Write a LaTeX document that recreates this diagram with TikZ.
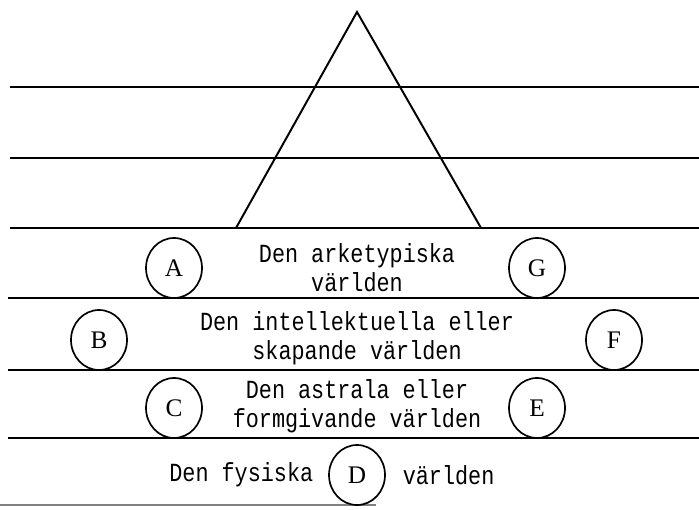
\documentclass[tikz,border=0pt]{standalone}
\usepackage{fontspec}
\setmainfont{Liberation Serif}
\newfontfamily\worldfont{Liberation Mono}
\usepackage{tikz}
\usetikzlibrary{shapes.geometric,positioning}

\begin{document}
\begin{tikzpicture}[
    level/.style={line width=1.4pt},
    letter/.style={draw, ellipse, line width=1.2pt, minimum width=1.4cm, minimum height=1.5cm, inner sep=0pt, font=\fontsize{18}{20}\selectfont},
    world/.style={align=center, yscale=1.2, transform shape, font=\worldfont\fontsize{15.5}{17}\selectfont}
  ]
    \useasboundingbox (0,0) rectangle (17.475,12.725);

    % Levels
    \draw[level] (0.25,10.55) -- (17.475,10.55);
    \draw[level] (0.25,8.775) -- (17.475,8.775);
    \draw[level] (0.25,7.025) -- (17.475,7.025);
    \draw[level] (0.2,5.275) -- (17.475,5.275);
    \draw[level] (0.2,3.475) -- (17.475,3.475);
    \draw[level] (0.2,1.775) -- (17.475,1.775);
    \draw[level, gray] (0,0.1) -- (9.4,0.1);

    % Triangle
    \draw[level, line join=miter] (8.925,12.425) -- (12.025,7.025) -- (5.9,7.025) -- cycle;

    % Nodes
    \node[letter] (A) at (4.35,6.025) {A};
    \node[letter] (G) at (13.425,6.025) {G};
    \node[letter] (B) at (2.475,4.225) {B};
    \node[letter] (F) at (15.35,4.225) {F};
    \node[letter] (C) at (4.35,2.525) {C};
    \node[letter] (E) at (13.425,2.525) {E};
    \node[letter] (D) at (8.925,0.85) {D};

    \node[world] (arch) at (8.925,6.025) {Den arketypiska\\världen};
    \node[world] (intel) at (8.925,4.275) {Den intellektuella eller\\skapande världen};
    \node[world] (astral) at (8.925,2.575) {Den astrala eller\\formgivande världen};
    \node[world, left=0.25cm of D] (phys) {Den fysiska};
    \node[world, right=0.3cm of D] (physw) {världen};
  \end{tikzpicture}
\end{document}
